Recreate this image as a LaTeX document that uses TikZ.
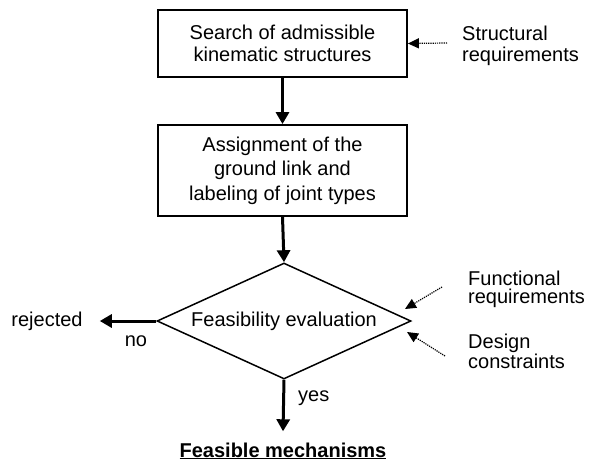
\documentclass[tikz,border=0pt]{standalone}
\usepackage{fontspec}
\setmainfont{Liberation Sans}
\usetikzlibrary{arrows.meta,shapes.geometric}
\begin{document}
\begin{tikzpicture}[x=1pt,y=-1pt,
  every node/.style={font=\fontsize{20}{22.5}\selectfont},
  procbox/.style={draw, line width=1.8pt, minimum width=249pt, align=center, inner sep=0pt},
  flow/.style={line width=3pt, -{Triangle[length=12pt,width=13pt]}},
  hint/.style={densely dotted, line width=1.2pt, -{Triangle[length=11pt,width=10pt,fill=black]}},
  sidelbl/.style={align=left, inner sep=0pt, anchor=north west},
  plain/.style={inner sep=0pt}]
\fill[white] (0,0) rectangle (589,466);
\useasboundingbox (0,0) rectangle (589,466);
% process boxes
\node[procbox, minimum height=67pt] (b1) at (282.5,43.5) {Search of admissible\\kinematic structures};
\node[procbox, minimum height=91pt, font=\fontsize{20}{24.5}\selectfont] (b2) at (282.5,170.5) {Assignment of the\\ground link and\\labeling of joint types};
% decision
\node[diamond, draw, line width=1.5pt, aspect=2.2, inner sep=0pt,
      minimum width=254pt, minimum height=116pt] (d) at (284,321) {Feasibility evaluation};
% outputs
\node[plain, inner xsep=17pt] (rej) at (47,321) {rejected};
\node[plain, anchor=base, inner sep=11pt] (fm) at (283,457) {\underline{\textbf{Feasible mechanisms}}};
\node[plain] (no) at (136,341) {no};
\node[plain, anchor=west] (yes) at (298,398) {yes};
% side labels
\node[sidelbl, font=\fontsize{20}{21}\selectfont] (sr) at (462,25.5) {Structural\\requirements};
\node[sidelbl, font=\fontsize{20}{18.5}\selectfont] (fr) at (468,270.5) {Functional\\requirements};
\node[sidelbl, font=\fontsize{20}{18.5}\selectfont] (dc) at (468,334) {Design\\constraints};
% flow arrows
\draw[flow] (b1.south) -- (b2.north);
\draw[flow] (b2.south) -- (d.north);
\draw[flow] (d.south) -- (fm.north);
\draw[flow] (d.west) -- (rej.east);
% dotted input arrows
\coordinate (s1) at (447,43);
\coordinate (f1) at (442,287);
\coordinate (f2) at (405,309);
\coordinate (c1) at (445,356);
\coordinate (c2) at (407,332);
\draw[hint] (s1) -- (b1.east);
\draw[hint] (f1) -- (f2);
\draw[hint] (c1) -- (c2);
\end{tikzpicture}
\end{document}
